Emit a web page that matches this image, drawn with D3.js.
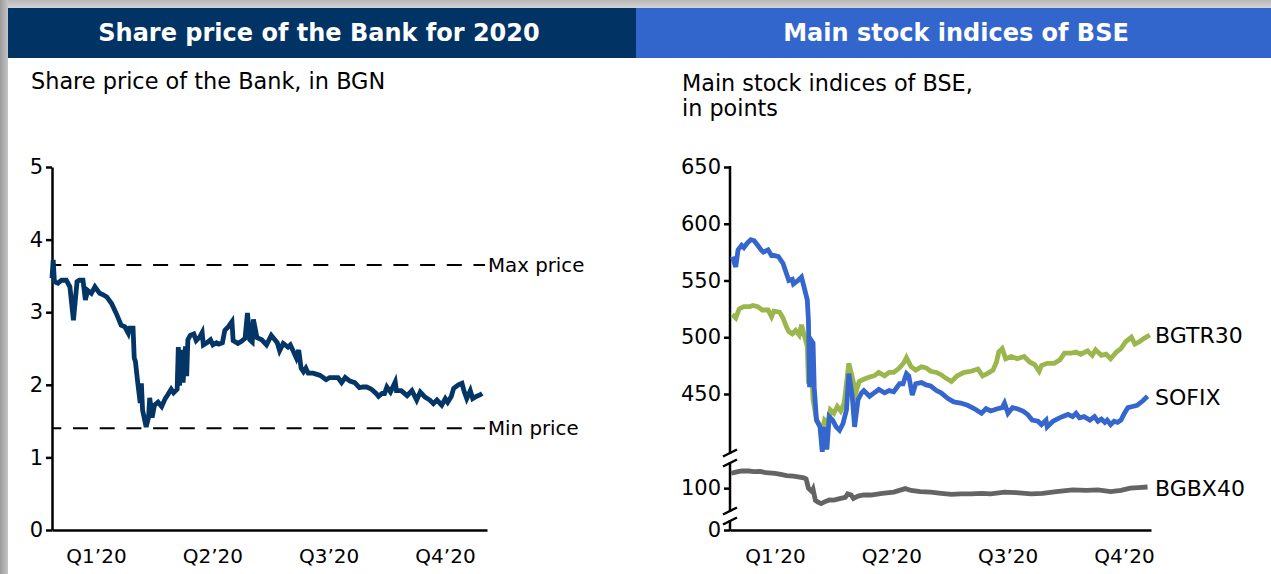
<!DOCTYPE html>
<html>
<head>
<meta charset="utf-8">
<script src="https://cdn.jsdelivr.net/npm/d3@7"></script>
<style>
  body { margin: 0; background: #fff; }
  svg { display: block; }
  text { font-family: "DejaVu Sans", Verdana, sans-serif; fill: #000; }
</style>
</head>
<body>
<svg id="chart" width="1271" height="574"></svg>
<script>
// ---- data -------------------------------------------------------------
const quarters = ["Q1\u201920", "Q2\u201920", "Q3\u201920", "Q4\u201920"];

// Bank share price, BGN: [day of year, price]
const bankPrice = [
  [0,3.47],[1,3.72],[2,3.42],[5,3.40],[8,3.44],[12,3.44],[15,3.35],[18,2.89],[21,3.42],[23,3.44],
  [26,3.44],[28,3.17],[30,3.30],[33,3.26],[36,3.35],[40,3.26],[43,3.24],[46,3.21],[50,3.12],[54,2.98],
  [58,2.82],[61,2.80],[64,2.71],[65,2.78],[68,2.78],[69,2.37],[70,2.32],[72,2.02],[74,1.75],[75,2.02],
  [76,1.65],[79,1.42],[81,1.55],[82,1.82],[84,1.55],[86,1.72],[89,1.76],[92,1.70],[95,1.81],[97,1.86],
  [100,1.94],[102,1.89],[105,1.94],[106,2.52],[107,1.99],[109,2.48],[110,2.03],[112,2.53],[113,2.12],[114,2.62],
  [116,2.68],[119,2.70],[121,2.61],[124,2.66],[126,2.72],[127,2.55],[130,2.58],[133,2.62],[135,2.55],[138,2.58],
  [140,2.56],[143,2.58],[145,2.75],[148,2.80],[151,2.87],[152,2.61],[156,2.57],[159,2.60],[162,2.64],[164,2.99],
  [166,2.62],[168,2.59],[169,2.90],[172,2.65],[176,2.62],[180,2.55],[184,2.68],[187,2.62],[189,2.58],[191,2.47],
  [194,2.57],[198,2.52],[200,2.55],[202,2.48],[205,2.37],[207,2.48],[209,2.23],[211,2.18],[213,2.23],[215,2.16],
  [219,2.16],[223,2.14],[225,2.13],[230,2.07],[233,2.10],[236,2.10],[240,2.10],[243,2.03],[246,2.10],[250,2.05],
  [254,2.03],[258,1.96],[261,1.97],[264,1.97],[268,1.94],[272,1.88],[274,1.84],[277,1.88],[279,1.88],[281,1.97],
  [284,1.90],[288,2.04],[289,1.92],[293,1.92],[298,1.85],[302,1.92],[306,1.79],[309,1.90],[313,1.83],[317,1.79],
  [320,1.74],[323,1.79],[327,1.72],[330,1.81],[332,1.76],[335,1.84],[337,1.95],[341,2.00],[344,2.02],[346,1.90],
  [348,1.81],[351,1.92],[353,1.81],[356,1.84],[359,1.86],[361,1.88]
];
const maxPrice = 3.65;
const minPrice = 1.40;
const bankTicks = [0, 1, 2, 3, 4, 5];

// BSE indices, points: [day of year, value]
const sofix = [
  [2,571],[5,562],[7,577],[10,581],[12,579],[15,583],[18,586],[21,585],[24,581],[27,577],
  [29,575],[33,577],[36,572],[38,572],[42,571],[46,565],[49,556],[51,550],[54,551],[55,547],
  [59,550],[62,553],[64,545],[67,533],[68,515],[69,456],[70,498],[72,495],[73,456],[75,427],
  [78,421],[80,399],[82,421],[84,401],[86,430],[89,427],[92,421],[95,418],[98,424],[101,436],
  [103,468],[106,448],[108,421],[111,445],[114,451],[116,453],[121,448],[125,451],[129,454],[134,451],
  [138,453],[142,452],[147,459],[150,459],[153,468],[155,466],[158,449],[161,459],[166,460],[170,458],
  [174,457],[179,453],[183,451],[189,446],[194,443],[200,442],[206,440],[212,437],[218,433],[222,437],
  [226,435],[232,437],[236,438],[238,442],[241,433],[245,438],[249,437],[254,435],[258,432],[262,427],
  [267,426],[270,423],[274,427],[275,421],[280,426],[284,428],[288,430],[293,432],[297,430],[300,433],
  [303,429],[307,430],[312,427],[316,430],[319,426],[322,428],[325,425],[327,427],[330,423],[333,426],
  [336,425],[339,427],[342,433],[345,438],[349,439],[353,440],[358,444],[362,448]
];
const bgtr30 = [
  [2,520],[5,517],[8,525],[12,527],[17,527],[20,528],[24,527],[28,524],[33,524],[36,518],
  [38,523],[43,522],[46,517],[49,509],[51,505],[54,503],[57,506],[60,502],[62,511],[64,503],
  [67,492],[68,459],[70,483],[72,445],[75,427],[77,424],[80,417],[82,427],[85,424],[87,436],
  [90,433],[93,439],[96,435],[99,442],[103,477],[106,465],[109,451],[112,461],[116,463],[121,465],
  [125,466],[129,469],[134,466],[138,469],[142,469],[147,473],[151,478],[153,482],[157,474],[161,471],
  [166,474],[170,473],[174,470],[179,469],[183,467],[187,464],[192,461],[197,466],[203,469],[209,470],
  [215,472],[219,466],[223,468],[228,471],[231,478],[233,487],[236,490],[239,481],[244,483],[249,481],
  [255,483],[260,478],[264,476],[268,470],[270,475],[275,477],[281,477],[286,480],[290,486],[296,486],
  [300,487],[304,485],[310,488],[314,484],[317,489],[322,484],[326,485],[330,481],[335,487],[339,490],
  [343,496],[348,500],[351,494],[355,496],[359,499],[364,502]
];
const bgbx40 = [
  [1,113],[5,114],[10,115],[16,115],[21,114.5],[26,114.7],[31,113.5],[39,113],[44,112],[49,111],
  [55,110.5],[59,109.8],[64,109],[66,108],[68,100],[71,97],[72,99],[74,89.4],[76,88],[79,86.5],
  [82,88],[86,89.7],[90,89.5],[96,91],[100,92],[102,95],[105,94],[107,91],[111,93],[116,94],
  [122,94],[132,95.5],[142,96.5],[152,99.6],[157,98],[165,97],[174,96.5],[183,95.5],[192,94.5],[200,95],
  [209,95],[218,95.5],[226,95],[238,96.5],[248,96],[261,95],[271,95.5],[283,97],[297,98.5],[309,98],
  [319,98.5],[330,97],[339,98],[347,100],[354,100.5],[362,101]
];
const indexTicks = [0, 100, 450, 500, 550, 600, 650];
const indexSeries = [
  { name: "BGTR30", values: bgtr30, color: "#9bb64c" },
  { name: "SOFIX",  values: sofix,  color: "#3466cd" },
  { name: "BGBX40", values: bgbx40, color: "#646464" }
];

// ---- frame ------------------------------------------------------------
const svg = d3.select("#chart");
const W = 1271, H = 574;
const defs = svg.append("defs");
const gTop = defs.append("linearGradient").attr("id", "shadeTop")
  .attr("x1", 0).attr("y1", 0).attr("x2", 0).attr("y2", 1);
gTop.append("stop").attr("offset", 0).attr("stop-color", "#b8b8b8");
gTop.append("stop").attr("offset", 1).attr("stop-color", "#d4d4d4");
const gLeft = defs.append("linearGradient").attr("id", "shadeLeft")
  .attr("x1", 0).attr("y1", 0).attr("x2", 1).attr("y2", 0);
gLeft.append("stop").attr("offset", 0).attr("stop-color", "#9c9c9c");
gLeft.append("stop").attr("offset", 1).attr("stop-color", "#c4c4c4");

svg.append("rect").attr("width", W).attr("height", H).attr("fill", "#fff");
svg.append("rect").attr("x", 0).attr("y", 0).attr("width", W).attr("height", 8).attr("fill", "url(#shadeTop)");
svg.append("rect").attr("x", 0).attr("y", 0).attr("width", 8).attr("height", H).attr("fill", "url(#shadeLeft)");

// panel headers
const headers = [
  { x0: 8,   x1: 636, cx: 319, fill: "#023365", title: "Share price of the Bank for 2020" },
  { x0: 636, x1: W,   cx: 956, fill: "#3366cc", title: "Main stock indices of BSE" }
];
headers.forEach(h => {
  svg.append("rect").attr("x", h.x0).attr("y", 8).attr("width", h.x1 - h.x0).attr("height", 50).attr("fill", h.fill);
  svg.append("text").attr("x", h.cx).attr("y", 33)
    .attr("text-anchor", "middle").attr("dominant-baseline", "central")
    .style("font-size", "24px").style("font-weight", "bold").style("fill", "#fff")
    .text(h.title);
});

// ---- left panel: share price -------------------------------------------
svg.append("text").attr("x", 31).attr("y", 89).style("font-size", "22.4px")
  .text("Share price of the Bank, in BGN");

const xL = d3.scaleLinear().domain([0, 365]).range([52, 487]);
const yL = d3.scaleLinear().domain([0, 5]).range([530, 167]);
const qL = d3.scalePoint().domain(quarters).range([96, 445]);

const left = svg.append("g");

left.append("g").attr("transform", "translate(52,0)")
  .call(d3.axisLeft(yL).tickValues(bankTicks).tickFormat(d3.format("d")).tickSize(6).tickPadding(3).tickSizeOuter(0))
  .call(g => g.selectAll("path,line").attr("stroke", "#000").attr("stroke-width", 2.5))
  .call(g => g.selectAll("text").style("font-size", "21px").attr("fill", "#000"));

left.append("g").attr("transform", "translate(0,530)")
  .call(d3.axisBottom(xL).tickValues([]).tickSizeOuter(0))
  .call(g => g.select(".domain").attr("stroke", "#000").attr("stroke-width", 2.5));

left.append("g").attr("transform", "translate(0,563)")
  .call(d3.axisBottom(qL).tickSize(0).tickPadding(0))
  .call(g => g.select(".domain").remove())
  .call(g => g.selectAll("text").attr("dy", 0).style("font-size", "20px").attr("fill", "#000"));

// reference lines for the yearly extremes
[{ v: maxPrice, label: "Max price" }, { v: minPrice, label: "Min price" }].forEach(r => {
  left.append("line").attr("x1", 52).attr("x2", 485)
    .attr("y1", yL(r.v)).attr("y2", yL(r.v))
    .attr("stroke", "#000").attr("stroke-width", 2)
    .attr("stroke-dasharray", "15 11.7").attr("stroke-dashoffset", 5.7);
  left.append("text").attr("x", 488).attr("y", yL(r.v))
    .attr("dominant-baseline", "central").style("font-size", "19.8px").text(r.label);
});

const bankLine = d3.line().x(d => xL(d[0])).y(d => yL(d[1]));
left.append("path").datum(bankPrice)
  .attr("d", bankLine).attr("fill", "none")
  .attr("stroke", "#033566").attr("stroke-width", 4.8);

// ---- right panel: indices with a broken value axis ----------------------
svg.append("text").attr("x", 682).attr("y", 91).style("font-size", "22.3px")
  .text("Main stock indices of BSE,");
svg.append("text").attr("x", 682).attr("y", 116).style("font-size", "22.3px")
  .text("in points");

const xR = d3.scaleLinear().domain([0, 365]).range([730, 1151]);
// piecewise scale: 0 at the baseline, a band around 100, and 398–650 above
const yR = d3.scaleLinear()
  .domain([0, 80, 122, 398, 650])
  .range([530, 511, 463, 453, 167]);
const qR = d3.scalePoint().domain(quarters).range([775, 1124]);
const axR = 730;

const right = svg.append("g");

right.append("g").attr("transform", `translate(${axR},0)`)
  .call(d3.axisLeft(yR).tickValues(indexTicks).tickFormat(d3.format("d")).tickSize(6).tickPadding(3).tickSizeOuter(0))
  .call(g => g.select(".domain").remove())
  .call(g => g.selectAll("line").attr("stroke", "#000").attr("stroke-width", 2.5))
  .call(g => g.selectAll("text").style("font-size", "21px").attr("fill", "#000"));

// axis pieces between the breaks
const axisPieces = [[yR(650), yR(398)], [yR(122), yR(80)], [yR(0) - 9, yR(0)]];
axisPieces.forEach(p => {
  right.append("line").attr("x1", axR).attr("x2", axR).attr("y1", p[0] - 1).attr("y2", p[1] + 1)
    .attr("stroke", "#000").attr("stroke-width", 2.5);
});
// break marks
[yR(398), yR(122), yR(80), yR(0) - 9].forEach(y => {
  right.append("line").attr("x1", axR - 7).attr("x2", axR + 7)
    .attr("y1", y + 3.5).attr("y2", y - 3.5)
    .attr("stroke", "#000").attr("stroke-width", 2.5);
});

right.append("g").attr("transform", "translate(0,530)")
  .call(d3.axisBottom(xR).tickValues([]).tickSizeOuter(0))
  .call(g => g.select(".domain").attr("stroke", "#000").attr("stroke-width", 2.5));

right.append("g").attr("transform", "translate(0,563)")
  .call(d3.axisBottom(qR).tickSize(0).tickPadding(0))
  .call(g => g.select(".domain").remove())
  .call(g => g.selectAll("text").attr("dy", 0).style("font-size", "20px").attr("fill", "#000"));

const idxLine = d3.line().x(d => xR(d[0])).y(d => yR(d[1]));
indexSeries.forEach(s => {
  right.append("path").datum(s.values)
    .attr("d", idxLine).attr("fill", "none")
    .attr("stroke", s.color).attr("stroke-width", 4.8);
  const last = s.values[s.values.length - 1];
  right.append("text").attr("x", 1155).attr("y", yR(last[1]) + 1)
    .attr("dominant-baseline", "central").style("font-size", "22px")
    .text(s.name);
});
</script>
</body>
</html>
